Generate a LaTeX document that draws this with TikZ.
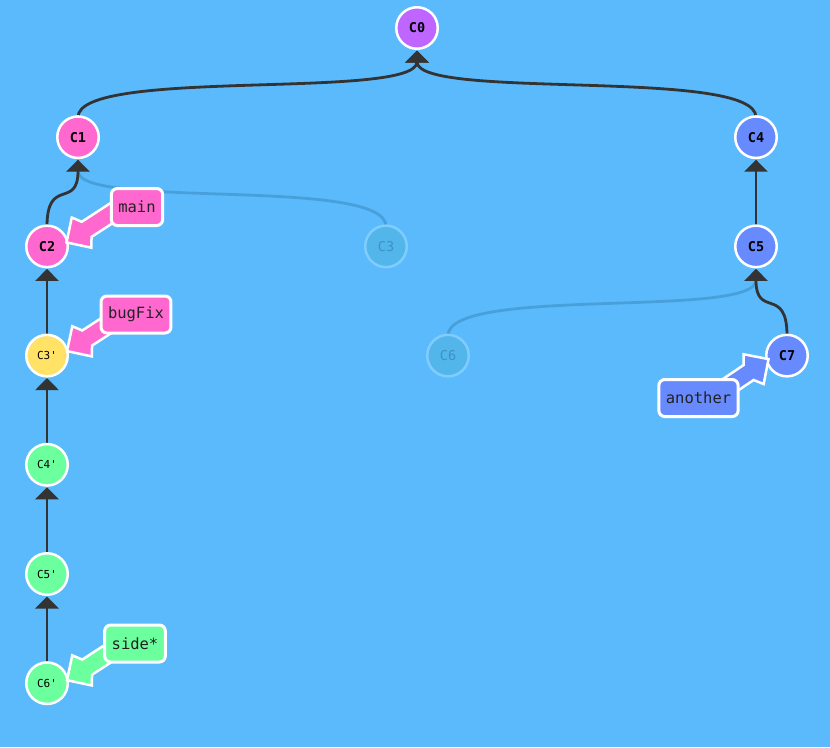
\documentclass[tikz,border=0pt]{standalone}
\usepackage{fontspec}
\newfontfamily\mono{DejaVu Sans Mono}
\usetikzlibrary{calc,arrows.meta}
\definecolor{bg}{RGB}{91,186,252}
\definecolor{cpurple}{RGB}{190,102,255}
\definecolor{cpink}{RGB}{255,104,206}
\definecolor{cblue}{RGB}{104,138,255}
\definecolor{cyellow}{RGB}{255,226,102}
\definecolor{cgreen}{RGB}{108,255,158}
\definecolor{edgecol}{RGB}{51,51,51}
\definecolor{fadeedge}{RGB}{72,160,218}
\definecolor{fadefill}{RGB}{82,182,234}
\definecolor{fadeborder}{RGB}{128,204,255}
\definecolor{fadetext}{RGB}{62,145,196}
\definecolor{textdark}{RGB}{34,34,34}
\newcommand\cedge[3][]{%
  \draw[edge,#1] ($(#2.center)+(0,-20)$) .. controls ($(#2.center)+(0,-70)$) and ($(#3.center)+(0,72.5)$) .. ($(#3.center)+(0,22.5)$);}
\newcommand\barrow[4]{%
  \begin{scope}[shift={($(#1.center)+#2$)}, rotate=#3]
    \draw[barrowstyle, fill=#4] (0,0) -- (18,18) -- (24,9) -- (66,9) -- (66,-9) -- (24,-9) -- (18,-18) -- cycle;
  \end{scope}}
\begin{document}
\begin{tikzpicture}[x=1pt,y=-1pt,
  commit/.style={circle, minimum size=41.5pt, inner sep=0pt, line width=2.5pt, draw=white,
    font=\mono\bfseries\fontsize{13.5}{13.5}\selectfont, text=black},
  primed/.style={font=\mono\fontsize{11}{11}\selectfont},
  faded/.style={fill=fadefill, draw=fadeborder, text=fadetext, font=\mono\fontsize{13.5}{13.5}\selectfont},
  edge/.style={draw=edgecol, line width=2.8pt, -{Triangle[length=12pt,width=23pt]}},
  fadededge/.style={draw=fadeedge},
  barrowstyle/.style={draw=white, line width=2.5pt, line join=miter, miter limit=10},
  branch/.style={rectangle, rounded corners=6pt, draw=white, line width=3pt, minimum height=37pt,
    inner xsep=7pt, inner ysep=0pt, font=\mono\fontsize{15.5}{15.5}\selectfont, text=textdark}]
\fill[bg] (0,0) rectangle (830,747);
\useasboundingbox (0,0) rectangle (830,747);
% commit positions
\coordinate (C0) at (417,28);
\coordinate (C1) at (78,137.2);
\coordinate (C2) at (47,246.4);
\coordinate (C3) at (386,246.4);
\coordinate (C3p) at (47,355.6);
\coordinate (C4p) at (47,464.8);
\coordinate (C5p) at (47,574);
\coordinate (C6p) at (47,683.2);
\coordinate (C4) at (756,137.2);
\coordinate (C5) at (756,246.4);
\coordinate (C6) at (448,355.6);
\coordinate (C7) at (787,355.6);
% faded edges
\cedge[fadededge]{C3}{C1}
\cedge[fadededge]{C6}{C5}
% regular edges
\cedge{C1}{C0}
\cedge{C4}{C0}
\cedge{C2}{C1}
\cedge{C3p}{C2}
\cedge{C4p}{C3p}
\cedge{C5p}{C4p}
\cedge{C6p}{C5p}
\cedge{C5}{C4}
\cedge{C7}{C5}
% commits on top of the edge ends
\node[commit, fill=cpurple] (n0) at (C0) {C0};
\node[commit, fill=cpink] (n1) at (C1) {C1};
\node[commit, fill=cpink] (n2) at (C2) {C2};
\node[commit, faded] (n3) at (C3) {C3};
\node[commit, primed, fill=cyellow] (n3p) at (C3p) {C3\textquotesingle};
\node[commit, primed, fill=cgreen] (n4p) at (C4p) {C4\textquotesingle};
\node[commit, primed, fill=cgreen] (n5p) at (C5p) {C5\textquotesingle};
\node[commit, primed, fill=cgreen] (n6p) at (C6p) {C6\textquotesingle};
\node[commit, fill=cblue] (n4) at (C4) {C4};
\node[commit, fill=cblue] (n5) at (C5) {C5};
\node[commit, faded] (n6) at (C6) {C6};
\node[commit, fill=cblue] (n7) at (C7) {C7};
% branch arrows
\barrow{n2}{(19.5,-4)}{33}{cpink}
\barrow{n3p}{(20,-4.5)}{33}{cpink}
\barrow{n6p}{(20,-3)}{33}{cgreen}
\barrow{n7}{(-18.5,3.5)}{214}{cblue}
% branch labels
\node[branch, fill=cpink] (main) at (137,207) {main};
\node[branch, fill=cpink] (bugFix) at (136,314.5) {bugFix};
\node[branch, fill=cblue] (another) at (698.5,398) {another};
\node[branch, fill=cgreen] (side) at (135,643.5) {side*};
\end{tikzpicture}
\end{document}
